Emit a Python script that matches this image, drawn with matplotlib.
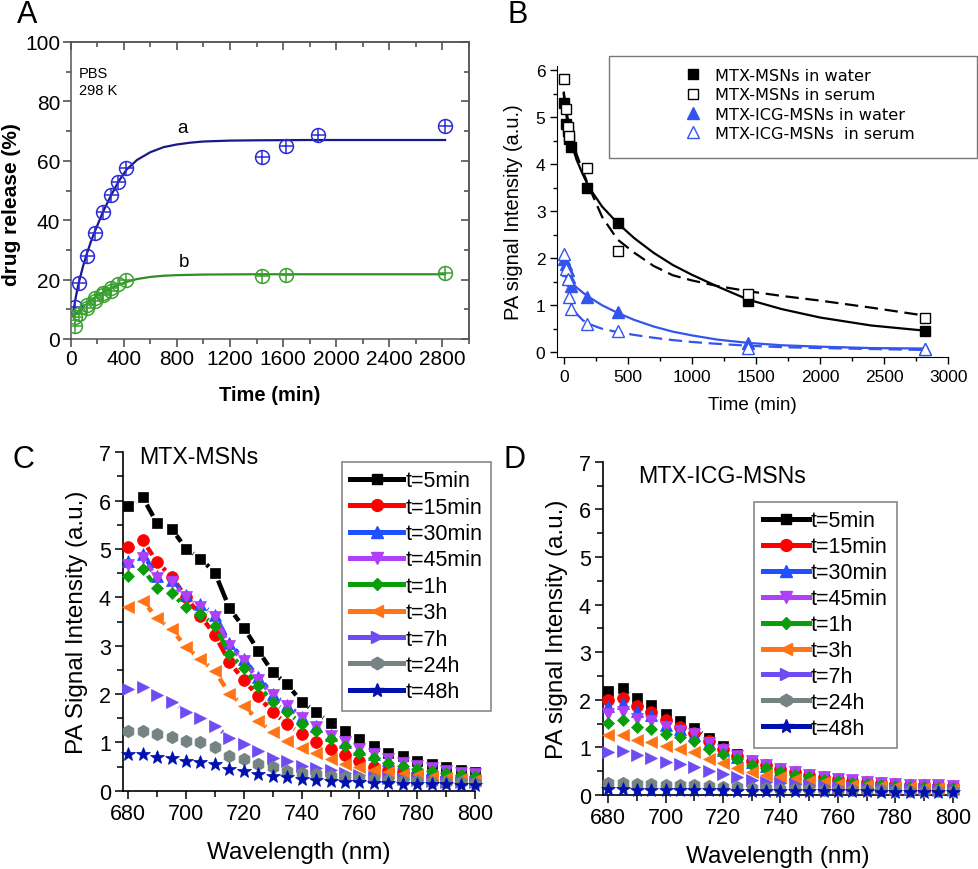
import numpy as np
import matplotlib
matplotlib.use("Agg")
import matplotlib.pyplot as plt
from matplotlib.collections import LineCollection
from matplotlib.lines import Line2D
from matplotlib.patches import Rectangle
from matplotlib.ticker import MultipleLocator, NullFormatter

plt.rcParams["font.family"] = ["Liberation Sans", "DejaVu Sans"]

W, H = 979, 870

# ---------------- panel A : drug release ----------------
rel_t_a = [30, 60, 120, 180, 240, 300, 360, 420, 1440, 1620, 1860, 2820]
rel_y_a = [10.7, 18.9, 28.1, 35.7, 42.9, 48.5, 53.0, 57.5, 61.3, 65.0, 68.8, 71.7]
rel_t_b = [30, 30, 60, 120, 120, 180, 180, 240, 240, 300, 300, 360, 420, 1440, 1620, 2820]
rel_y_b = [4.5, 7.5, 8.5, 11.5, 10.5, 13.8, 12.9, 15.5, 14.8, 17.2, 16.3, 18.5, 19.8, 21.1, 21.6, 22.2]
fit_t_a = [20, 40, 60, 90, 120, 150, 180, 240, 300, 360, 420, 500, 600, 700, 800, 900, 1000, 1200, 1400, 1800, 2400, 2820]
fit_y_a = [9.5, 14.5, 18.8, 24.0, 28.5, 32.5, 36.0, 42.5, 48.0, 53.0, 57.0, 60.3, 62.9, 64.6, 65.5, 66.1, 66.5, 66.8, 66.9, 67.0, 67.0, 67.0]
fit_t_b = [25, 60, 120, 180, 240, 300, 360, 420, 500, 600, 700, 800, 1000, 1400, 2000, 2820]
fit_y_b = [8.0, 9.5, 11.8, 13.9, 15.6, 17.0, 18.2, 19.2, 20.2, 20.9, 21.3, 21.5, 21.7, 21.8, 21.8, 21.8]

# ---------------- panel B : PA signal vs time ----------------
pa_t_w = [5, 15, 30, 45, 60, 180, 420, 1440, 2820]
pa_y_w = [5.31, 4.85, 4.70, 4.53, 4.37, 3.50, 2.75, 1.10, 0.45]
pa_t_s = [5, 15, 30, 45, 180, 420, 1440, 2820]
pa_y_s = [5.81, 5.17, 4.80, 4.60, 3.92, 2.15, 1.25, 0.74]
pa_t_iw = [5, 15, 30, 45, 60, 180, 420, 1440, 2820]
pa_y_iw = [1.98, 1.88, 1.75, 1.60, 1.42, 1.18, 0.85, 0.20, 0.07]
pa_t_is = [5, 15, 30, 45, 60, 180, 420, 1440, 2820]
pa_y_is = [2.10, 1.78, 1.55, 1.17, 0.93, 0.60, 0.46, 0.10, 0.07]

fit_t = [0, 15, 30, 60, 100, 150, 200, 300, 420, 550, 700, 850, 1000, 1200, 1440, 1700, 2000, 2400, 2820]
fit_w = [5.50, 5.15, 4.87, 4.45, 4.10, 3.78, 3.50, 3.10, 2.75, 2.43, 2.12, 1.86, 1.65, 1.40, 1.12, 0.92, 0.74, 0.57, 0.46]
fit_s = [5.55, 5.25, 5.00, 4.62, 4.22, 3.85, 3.50, 2.88, 2.40, 2.12, 1.84, 1.64, 1.53, 1.41, 1.30, 1.20, 1.10, 0.95, 0.78]
fit_iw = [2.00, 1.85, 1.72, 1.50, 1.38, 1.27, 1.17, 1.00, 0.84, 0.69, 0.55, 0.44, 0.36, 0.27, 0.20, 0.15, 0.12, 0.09, 0.08]
fit_is = [2.10, 1.70, 1.40, 1.00, 0.82, 0.68, 0.60, 0.50, 0.43, 0.37, 0.31, 0.26, 0.22, 0.18, 0.14, 0.11, 0.09, 0.07, 0.05]

# ---------------- panels C / D : spectra ----------------
wl = list(range(680, 801, 5))
labels_cd = ["t=5min", "t=15min", "t=30min", "t=45min", "t=1h", "t=3h", "t=7h", "t=24h", "t=48h"]

spec_c = [
    [5.88, 6.07, 5.53, 5.42, 5.01, 4.80, 4.51, 3.78, 3.37, 2.90, 2.45, 2.20, 1.84, 1.62, 1.41, 1.23, 1.07, 0.93, 0.79, 0.71, 0.62, 0.55, 0.48, 0.43, 0.38],
    [5.05, 5.18, 4.73, 4.43, 4.00, 3.62, 3.22, 2.66, 2.29, 1.95, 1.62, 1.38, 1.17, 1.00, 0.86, 0.73, 0.62, 0.50, 0.43, 0.38, 0.34, 0.30, 0.27, 0.25, 0.23],
    [4.76, 4.90, 4.44, 4.36, 4.05, 3.86, 3.64, 3.05, 2.72, 2.35, 2.00, 1.78, 1.52, 1.33, 1.15, 1.00, 0.87, 0.75, 0.64, 0.57, 0.50, 0.45, 0.40, 0.36, 0.33],
    [4.66, 4.81, 4.40, 4.31, 4.00, 3.79, 3.59, 3.00, 2.68, 2.30, 1.97, 1.75, 1.50, 1.32, 1.14, 1.00, 0.87, 0.76, 0.66, 0.58, 0.51, 0.46, 0.41, 0.37, 0.34],
    [4.45, 4.59, 4.19, 4.09, 3.79, 3.66, 3.41, 2.83, 2.53, 2.17, 1.84, 1.63, 1.38, 1.24, 1.07, 0.92, 0.78, 0.67, 0.57, 0.52, 0.45, 0.41, 0.36, 0.32, 0.30],
    [3.81, 3.93, 3.57, 3.34, 2.97, 2.72, 2.47, 2.01, 1.76, 1.45, 1.21, 1.03, 0.88, 0.77, 0.66, 0.56, 0.48, 0.43, 0.38, 0.35, 0.32, 0.29, 0.27, 0.25, 0.23],
    [2.10, 2.15, 1.97, 1.83, 1.63, 1.50, 1.34, 1.10, 0.97, 0.83, 0.67, 0.62, 0.52, 0.47, 0.42, 0.37, 0.33, 0.29, 0.26, 0.24, 0.22, 0.20, 0.19, 0.18, 0.17],
    [1.24, 1.24, 1.17, 1.12, 1.03, 1.00, 0.90, 0.72, 0.66, 0.55, 0.48, 0.41, 0.37, 0.34, 0.31, 0.29, 0.27, 0.25, 0.23, 0.21, 0.20, 0.19, 0.18, 0.17, 0.16],
    [0.76, 0.76, 0.69, 0.67, 0.62, 0.60, 0.55, 0.45, 0.41, 0.34, 0.31, 0.28, 0.24, 0.22, 0.20, 0.19, 0.17, 0.16, 0.15, 0.14, 0.14, 0.13, 0.13, 0.12, 0.12],
]

spec_d = [
    [2.19, 2.24, 2.04, 1.89, 1.70, 1.56, 1.41, 1.19, 1.03, 0.87, 0.72, 0.62, 0.53, 0.47, 0.41, 0.37, 0.33, 0.30, 0.27, 0.25, 0.23, 0.21, 0.20, 0.19, 0.18],
    [2.00, 2.03, 1.86, 1.74, 1.57, 1.43, 1.30, 1.14, 0.97, 0.81, 0.72, 0.63, 0.55, 0.48, 0.42, 0.37, 0.33, 0.30, 0.27, 0.25, 0.23, 0.21, 0.20, 0.19, 0.18],
    [1.86, 1.93, 1.77, 1.67, 1.47, 1.38, 1.27, 1.10, 0.95, 0.80, 0.70, 0.61, 0.53, 0.47, 0.41, 0.36, 0.32, 0.29, 0.26, 0.24, 0.22, 0.20, 0.19, 0.18, 0.17],
    [1.70, 1.75, 1.60, 1.56, 1.42, 1.35, 1.28, 1.10, 0.95, 0.82, 0.72, 0.63, 0.55, 0.49, 0.43, 0.38, 0.34, 0.31, 0.28, 0.26, 0.24, 0.22, 0.21, 0.20, 0.19],
    [1.51, 1.58, 1.42, 1.39, 1.28, 1.21, 1.14, 0.97, 0.86, 0.76, 0.62, 0.56, 0.48, 0.42, 0.37, 0.32, 0.29, 0.26, 0.23, 0.21, 0.19, 0.17, 0.16, 0.15, 0.14],
    [1.25, 1.26, 1.16, 1.12, 1.02, 0.97, 0.90, 0.76, 0.67, 0.56, 0.48, 0.42, 0.37, 0.33, 0.30, 0.27, 0.24, 0.22, 0.20, 0.18, 0.17, 0.16, 0.15, 0.14, 0.13],
    [0.90, 0.93, 0.83, 0.77, 0.70, 0.65, 0.58, 0.51, 0.44, 0.37, 0.32, 0.28, 0.25, 0.23, 0.21, 0.19, 0.17, 0.16, 0.15, 0.14, 0.13, 0.12, 0.12, 0.11, 0.11],
    [0.25, 0.26, 0.24, 0.23, 0.22, 0.21, 0.20, 0.18, 0.17, 0.16, 0.15, 0.14, 0.13, 0.12, 0.12, 0.11, 0.11, 0.10, 0.10, 0.10, 0.09, 0.09, 0.09, 0.08, 0.08],
    [0.12, 0.12, 0.11, 0.11, 0.11, 0.10, 0.10, 0.10, 0.10, 0.09, 0.09, 0.09, 0.09, 0.08, 0.08, 0.08, 0.08, 0.08, 0.08, 0.07, 0.07, 0.07, 0.07, 0.07, 0.07],
]

STYLES_CD = [
    ("#000000", "s", 7.5),
    ("#ff0000", "o", 8.5),
    ("#1f4fff", "^", 8.5),
    ("#b040f8", "v", 8.5),
    ("#0a9e0a", "D", 6.5),
    ("#ff7415", "<", 8.5),
    ("#6e4cf2", ">", 8.5),
    ("#768383", "h", 9.0),
    ("#0010b0", "*", 10.0),
]


def add_axes_px(fig, left, top, right, bottom):
    return fig.add_axes([left / W, 1 - bottom / H, (right - left) / W, (bottom - top) / H])


def fig_text(fig, x, y, s, **kw):
    fig.text(x / W, 1 - y / H, s, **kw)


def gapped_line(ax, x, y, color, lw, gap_px, zorder):
    # Origin-style "gap to symbol": segments are cut back around every marker
    pts = ax.transData.transform(np.column_stack([x, y]))
    inv = ax.transData.inverted()
    segs = []
    for p0, p1 in zip(pts[:-1], pts[1:]):
        d = p1 - p0
        length = np.hypot(d[0], d[1])
        if length <= 2 * gap_px:
            continue
        u = d / length
        segs.append(inv.transform(np.array([p0 + u * gap_px, p1 - u * gap_px])))
    if segs:
        ax.add_collection(LineCollection(segs, colors=color, linewidths=lw,
                                         zorder=zorder, capstyle="butt"))


fig = plt.figure(figsize=(W / 100, H / 100), dpi=100)

# ---------------- A ----------------
axA = add_axes_px(fig, 70.7, 43, 469, 340)
blue_a, navy_a = "#2b2bd6", "#1a1a86"
green_a, green_l = "#3aa030", "#2f8f25"
axA.plot(fit_t_a, fit_y_a, color=navy_a, lw=1.6, zorder=2)
axA.plot(fit_t_b, fit_y_b, color=green_l, lw=1.6, zorder=2)
for t, y, c in [(rel_t_a, rel_y_a, blue_a), (rel_t_b, rel_y_b, green_a)]:
    axA.plot(t, y, ls="none", marker="o", ms=10, mfc="none", mec=c, mew=1.1, zorder=3)
    axA.plot(t, y, ls="none", marker="+", ms=10, mec=c, mew=1.1, zorder=3)
axA.set_xlim(0, 3000)
axA.set_ylim(0, 100)
axA.xaxis.set_major_locator(MultipleLocator(400))
axA.xaxis.set_minor_locator(MultipleLocator(200))
axA.yaxis.set_major_locator(MultipleLocator(20))
axA.yaxis.set_minor_locator(MultipleLocator(10))
axA.tick_params(which="both", labelsize=15, width=1.1, color="#444444", pad=1.5)
axA.tick_params(which="major", length=6)
axA.tick_params(which="minor", length=3.5)
# top / right ticks point inward
topx = axA.secondary_xaxis("top")
topx.xaxis.set_major_locator(MultipleLocator(400))
topx.xaxis.set_minor_locator(MultipleLocator(200))
topx.xaxis.set_major_formatter(NullFormatter())
rgty = axA.secondary_yaxis("right")
rgty.yaxis.set_major_locator(MultipleLocator(20))
rgty.yaxis.set_minor_locator(MultipleLocator(10))
rgty.yaxis.set_major_formatter(NullFormatter())
for sec in (topx, rgty):
    sec.tick_params(which="both", direction="in", width=1.1, color="#444444")
    sec.tick_params(which="major", length=6)
    sec.tick_params(which="minor", length=3.5)
    for sp in sec.spines.values():
        sp.set_color("#555555")
        sp.set_linewidth(1.1)
for sp in axA.spines.values():
    sp.set_color("#555555")
    sp.set_linewidth(1.1)
axA.set_xlabel("Time (min)", fontsize=14.5, fontweight="bold", labelpad=12)
axA.set_ylabel("drug release (%)", fontsize=15, fontweight="bold")
axA.yaxis.set_label_coords(-0.125, 0.455)
axA.text(62, 92, "PBS\n298 K", fontsize=10.5, va="top", ha="left", linespacing=1.3)
axA.text(840, 68.5, "a", fontsize=13.5, ha="center", va="bottom")
axA.text(850, 26, "b", fontsize=13.5, ha="center", va="center")
fig_text(fig, 17, 15, "A", fontsize=22, va="center", ha="left")

# ---------------- B ----------------
axB = add_axes_px(fig, 557.3, 66.7, 948.3, 358)
blue_b = "#3355ee"
axB.plot(fit_t, fit_w, color="black", lw=1.6, zorder=2)
axB.plot(fit_t, fit_s, color="black", lw=1.6, ls=(0, (6, 3)), zorder=2)
axB.plot(fit_t, fit_iw, color=blue_b, lw=1.6, zorder=2)
axB.plot(fit_t, fit_is, color=blue_b, lw=1.6, ls=(0, (6, 3)), zorder=2)
axB.plot(pa_t_w, pa_y_w, ls="none", marker="s", ms=7.5, color="black",
         label="MTX-MSNs in water", zorder=3)
axB.plot(pa_t_s, pa_y_s, ls="none", marker="s", ms=7.5, mfc="white", mec="black", mew=1.0,
         label="MTX-MSNs in serum", zorder=3)
axB.plot(pa_t_iw, pa_y_iw, ls="none", marker="^", ms=9, color=blue_b,
         label="MTX-ICG-MSNs in water", zorder=3)
axB.plot(pa_t_is, pa_y_is, ls="none", marker="^", ms=9, mfc="white", mec=blue_b, mew=1.0,
         label="MTX-ICG-MSNs  in serum", zorder=3)
axB.set_xlim(-50, 3000)
axB.set_ylim(-0.1, 6.1)
axB.xaxis.set_major_locator(MultipleLocator(500))
axB.xaxis.set_minor_locator(MultipleLocator(250))
axB.yaxis.set_major_locator(MultipleLocator(1))
axB.yaxis.set_minor_locator(MultipleLocator(0.5))
axB.spines["top"].set_visible(False)
axB.spines["right"].set_visible(False)
axB.tick_params(which="both", labelsize=12.5, width=1.0)
axB.tick_params(which="major", length=5)
axB.tick_params(which="minor", length=3)
axB.set_xlabel("Time (min)", fontsize=13.5, labelpad=9)
axB.set_ylabel("PA signal Intensity (a.u.)", fontsize=14.5, labelpad=9)
# legend frame is drawn separately: it is much larger than the entries
axB.add_patch(Rectangle((609 / W, 1 - 159 / H), 368 / W, 102 / H, transform=fig.transFigure,
                        facecolor="white", edgecolor="#777777", lw=1.0, zorder=5, clip_on=False))
legB = axB.legend(loc="upper left", bbox_to_anchor=(685 / W, 1 - 69 / H),
                  bbox_transform=fig.transFigure, borderaxespad=0, frameon=False,
                  prop={"family": "DejaVu Sans", "size": 11.6},
                  handlelength=1.0, handletextpad=0.85, labelspacing=0.27,
                  borderpad=0)
legB.set_zorder(6)
fig_text(fig, 508, 15, "B", fontsize=22, va="center", ha="left")


# ---------------- C / D ----------------
def spectra_panel(ax, data, title, title_xy, ylabel, leg_xy, hlen, lspace):
    ax.set_xlim(678.3, 800)
    ax.set_ylim(0, 7)
    for i, (ys, (c, m, ms)) in enumerate(zip(data, STYLES_CD)):
        gapped_line(ax, wl, ys, c, 3.2, 8.5, zorder=2 + 2 * i)
        ax.plot(wl, ys, ls="none", marker=m, ms=ms, color=c, mec=c, mew=0.5,
                zorder=3 + 2 * i, clip_on=False)
    ax.xaxis.set_major_locator(MultipleLocator(20))
    ax.xaxis.set_minor_locator(MultipleLocator(10))
    ax.yaxis.set_major_locator(MultipleLocator(1))
    ax.yaxis.set_minor_locator(MultipleLocator(0.5))
    ax.spines["top"].set_visible(False)
    ax.spines["right"].set_visible(False)
    for sp in ax.spines.values():
        sp.set_linewidth(1.2)
    ax.tick_params(which="both", labelsize=15.5, width=1.1, pad=3)
    ax.tick_params(which="major", length=6)
    ax.tick_params(which="minor", length=4)
    ax.set_xlabel("Wavelength (nm)", fontsize=17.5, labelpad=12)
    ax.set_ylabel(ylabel, fontsize=17.5, labelpad=8)
    ax.text(title_xy[0], title_xy[1], title, fontsize=16.7, ha="left", va="center")
    handles = [Line2D([0], [0], color=c, lw=3.6, marker=m, ms=ms, mec=c)
               for c, m, ms in STYLES_CD]
    leg = ax.legend(handles, labels_cd, loc="upper left",
                    bbox_to_anchor=(leg_xy[0] / W, 1 - leg_xy[1] / H),
                    bbox_transform=fig.transFigure, borderaxespad=0, fancybox=False,
                    edgecolor="#888888", framealpha=1, fontsize=15.5,
                    handlelength=hlen, handletextpad=0.1, labelspacing=lspace,
                    borderpad=0.4)
    leg.get_frame().set_linewidth(1.2)
    leg.set_zorder(30)


axC = add_axes_px(fig, 123.3, 453.3, 475, 791.7)
spectra_panel(axC, spec_c, "MTX-MSNs", (683.7, 6.92), "PA Signal Intensity (a.u.)",
              (341.7, 462.7), 2.45, 0.25)
fig_text(fig, 13, 460, "C", fontsize=22, va="center", ha="left")

axD = add_axes_px(fig, 603.3, 462.7, 952.7, 796)
spectra_panel(axD, spec_d, "MTX-ICG-MSNs", (690.5, 6.71), "PA signal Intensity (a.u.)",
              (754, 502.7), 2.15, 0.23)
fig_text(fig, 503, 460, "D", fontsize=22, va="center", ha="left")

fig.savefig("out.png", dpi=100)
